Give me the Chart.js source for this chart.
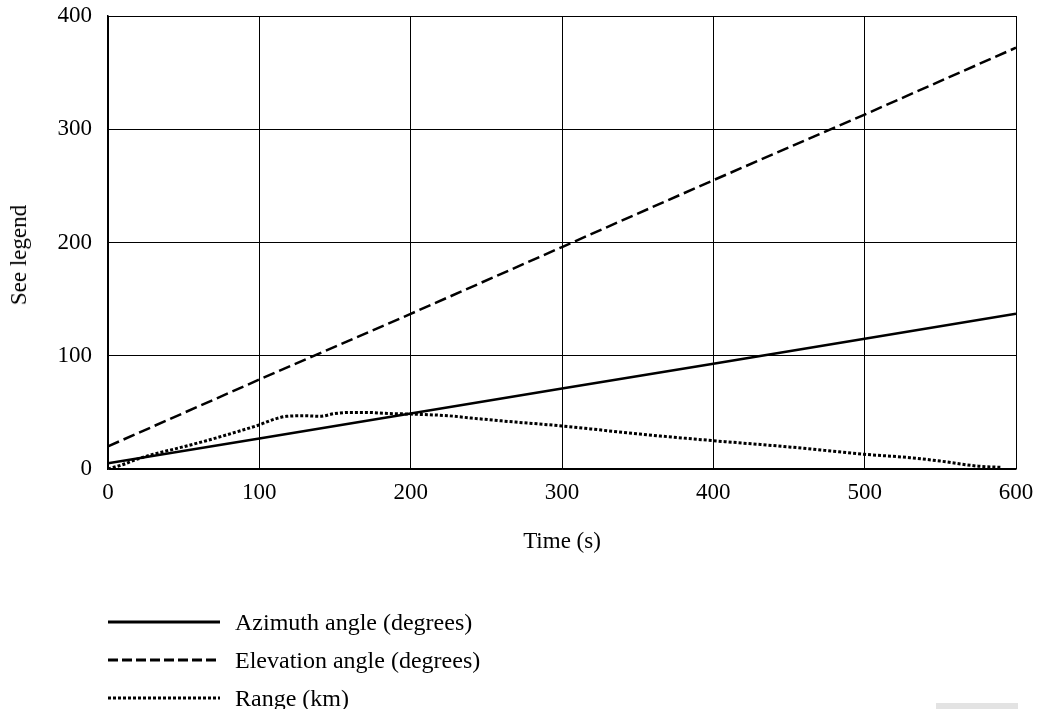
<!DOCTYPE html>
<html>
<head>
<meta charset="utf-8">
<script src="https://cdn.jsdelivr.net/npm/chart.js@4/dist/chart.umd.min.js"></script>
<style>
  html, body { margin:0; padding:0; background:#fff; }
  #wrap { position:relative; width:1038px; height:709px; overflow:hidden; }
  #c { position:absolute; left:0; top:0; }
  .leg { position:absolute; left:108px; height:30px; font-family:'Liberation Serif', 'Times New Roman', serif; font-size:24px; color:#000; display:flex; align-items:center; white-space:nowrap; }
  .leg svg { margin-right:15px; }
  #ytitle { position:absolute; left:19px; top:255px; transform:translate(-50%,-50%) rotate(-90deg); font-family:'Liberation Serif', 'Times New Roman', serif; font-size:23px; color:#000; white-space:nowrap; }
  #grey { position:absolute; left:936px; top:703px; width:82px; height:6px; background:#e3e3e3; }
</style>
</head>
<body>
<div id="wrap">
  <canvas id="c" width="1038" height="709"></canvas>
  <div id="ytitle">See legend</div>
  <div class="leg" style="top:607px;"><svg width="112" height="6"><line x1="0" y1="3" x2="112" y2="3" stroke="#000" stroke-width="3"/></svg><span>Azimuth angle (degrees)</span></div>
  <div class="leg" style="top:645px;"><svg width="112" height="6"><line x1="0" y1="3" x2="112" y2="3" stroke="#000" stroke-width="3" stroke-dasharray="10,4"/></svg><span>Elevation angle (degrees)</span></div>
  <div class="leg" style="top:683px;"><svg width="112" height="6"><line x1="0" y1="3" x2="112" y2="3" stroke="#000" stroke-width="3" stroke-dasharray="3,2"/></svg><span>Range (km)</span></div>
  <div id="grey"></div>
</div>
<script>
const lineTimes = [0, 100, 200, 300, 400, 500, 600];
const azimuth   = [5, 27, 49, 71, 93, 115, 137];
const elevation = [20, 79, 137, 196, 255, 313, 372];
const rangeTimes  = [0, 10, 20, 30, 45, 65, 88, 100, 110, 118, 130, 140, 150, 160, 170, 185, 200, 225, 240, 260, 300, 350, 400, 450, 500, 530, 550, 575, 590];
const rangeValues = [0, 4, 9, 13, 18, 25, 34, 39, 44, 46.5, 47, 46.5, 49, 50, 50, 49, 48.5, 47, 45, 42.5, 38, 31, 25, 19.5, 13, 10, 7, 2.5, 1.5];
const xTicks = [0, 100, 200, 300, 400, 500, 600];
const yTicks = [0, 100, 200, 300, 400];

const FONT = "'Liberation Serif', 'Times New Roman', serif";
const pts = (xs, ys) => xs.map((x, i) => ({x, y: ys[i]}));

new Chart(document.getElementById('c'), {
  type: 'line',
  data: {
    datasets: [
      { label: 'Azimuth angle (degrees)', data: pts(lineTimes, azimuth), borderColor: '#000', borderWidth: 2.5, pointRadius: 0, fill: false },
      { label: 'Elevation angle (degrees)', data: pts(lineTimes, elevation), borderColor: '#000', borderWidth: 2.5, borderDash: [12, 5], pointRadius: 0, fill: false },
      { label: 'Range (km)', data: pts(rangeTimes, rangeValues), borderColor: '#000', borderWidth: 3, borderDash: [3, 2], pointRadius: 0, fill: false, cubicInterpolationMode: 'monotone' }
    ]
  },
  options: {
    responsive: false,
    animation: false,
    layout: { padding: { top: 16, right: 22, bottom: 149, left: 0 } },
    plugins: { legend: { display: false }, tooltip: { enabled: false } },
    scales: {
      x: {
        type: 'linear', min: 0, max: 600,
        afterBuildTicks: s => { s.ticks = xTicks.map(v => ({value: v})); },
        afterFit: s => { s.height = 91; s.paddingLeft = 0; s.paddingRight = 0; },
        ticks: { color: '#000', font: { family: FONT, size: 23 }, padding: 10, maxRotation: 0 },
        grid: { color: '#000', lineWidth: 1, drawTicks: false },
        border: { color: '#000', width: 1.5 },
        title: { display: true, text: 'Time (s)', color: '#000', font: { family: FONT, size: 23 }, padding: { top: 0, bottom: 4 } }
      },
      y: {
        type: 'linear', min: 0, max: 400,
        afterBuildTicks: s => { s.ticks = yTicks.map(v => ({value: v})); },
        afterFit: s => { s.width = 108; s.paddingTop = 0; s.paddingBottom = 0; },
        ticks: { color: '#000', font: { family: FONT, size: 23 }, padding: 16 },
        grid: { color: '#000', lineWidth: 1, drawTicks: false },
        border: { color: '#000', width: 1.5 },
        title: { display: false }
      }
    }
  }
});
</script>
</body>
</html>
